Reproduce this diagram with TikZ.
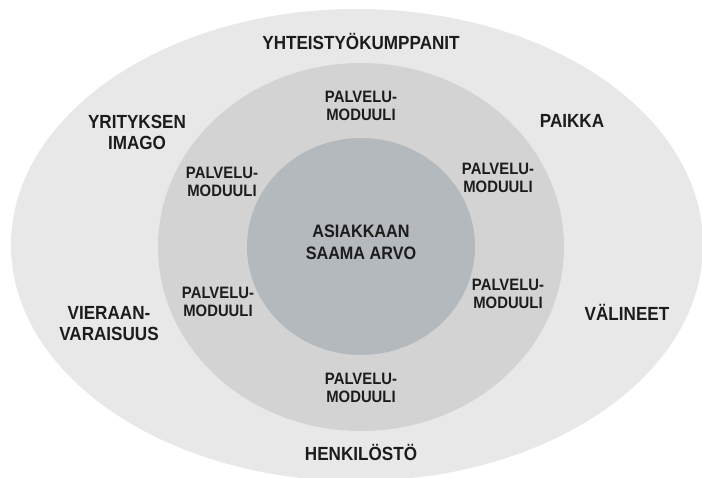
\documentclass[tikz,border=0pt]{standalone}
\usepackage{fontspec}
\newfontfamily\labfont{Liberation Sans Bold}[FakeStretch=0.9]
\definecolor{outerc}{HTML}{E8E8E8}
\definecolor{midc}{HTML}{D3D3D3}
\definecolor{innerc}{HTML}{B4B9BD}
\definecolor{txt}{HTML}{1C1C1C}
\tikzset{
  lbl/.style={align=center, text=txt, font=\labfont\fontsize{19}{21}\selectfont, inner sep=0pt},
  core/.style={align=center, text=txt, font=\labfont\fontsize{18}{22}\selectfont, inner sep=0pt},
  mod/.style={align=center, text=txt, font=\labfont\fontsize{16.5}{18}\selectfont, inner sep=0pt}
}
\begin{document}
\begin{tikzpicture}[x=1pt,y=-1pt]
\useasboundingbox (0,0) rectangle (702,477);
\begin{scope}
\clip (0,0) rectangle (702,477);
\fill[outerc] (357,245) ellipse [x radius=346, y radius=236];
\fill[midc] (361,247) ellipse [x radius=203, y radius=184];
\fill[innerc] (361,246.5) ellipse [x radius=114, y radius=108.5];
\end{scope}
\node[lbl] (yht) at (361,41) {YHTEISTYÖKUMPPANIT};
\node[lbl] (imago) at (137,132) {YRITYKSEN\\IMAGO};
\node[lbl] (paikka) at (572,121) {PAIKKA};
\node[lbl] (vier) at (109,324) {VIERAAN-\\VARAISUUS};
\node[lbl] (vali) at (627,312) {VÄLINEET};
\node[lbl] (henk) at (361,452) {HENKILÖSTÖ};
\node[core] (arvo) at (361,242) {ASIAKKAAN\\SAAMA ARVO};
\node[mod] (m1) at (361,106) {PALVELU-\\MODUULI};
\node[mod] (m2) at (222,182) {PALVELU-\\MODUULI};
\node[mod] (m3) at (498,178) {PALVELU-\\MODUULI};
\node[mod] (m4) at (218,302) {PALVELU-\\MODUULI};
\node[mod] (m5) at (508,294) {PALVELU-\\MODUULI};
\node[mod] (m6) at (361,388) {PALVELU-\\MODUULI};
\end{tikzpicture}
\end{document}
